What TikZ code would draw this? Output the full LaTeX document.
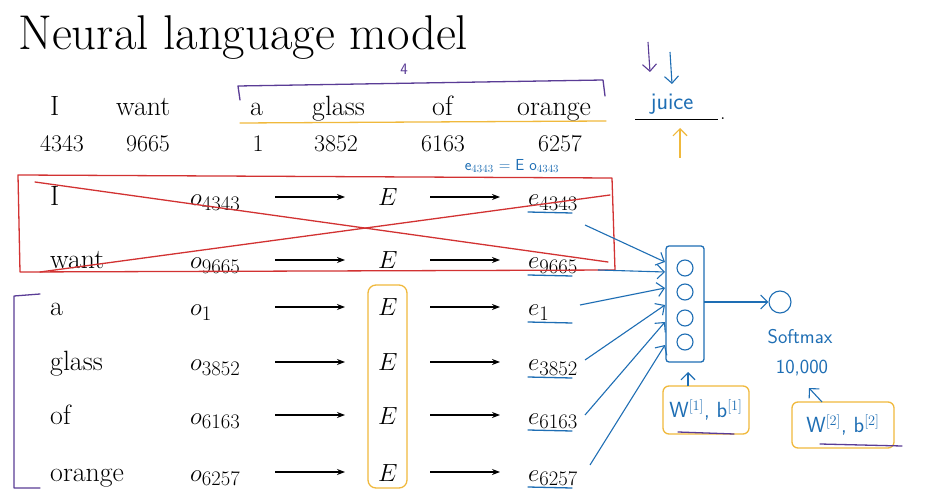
\documentclass[tikz,border=0pt]{standalone}
\usetikzlibrary{arrows.meta}
\definecolor{pblue}{RGB}{30,110,180}
\definecolor{pred}{RGB}{210,50,50}
\definecolor{porange}{RGB}{240,185,60}
\definecolor{ppurple}{RGB}{90,60,150}
\begin{document}
\begin{tikzpicture}[x=1bp,y=-1bp,
  txt/.style={anchor=base west,inner sep=0pt,font=\fontsize{28}{32}\selectfont},
  num/.style={anchor=base,inner sep=0pt,font=\fontsize{24}{28}\selectfont},
  hand/.style={inner sep=1pt,text=pblue,font=\sffamily\fontsize{20}{24}\selectfont},
  arr/.style={-{Stealth[length=8bp]},line width=1.3pt},
  barr/.style={-{Straight Barb[length=7bp]},pblue,line width=1.1pt},
  pen/.style={line width=1.3pt,line cap=round,line join=round}]
\useasboundingbox (0,0) rectangle (944,493);
\fill[white] (0,0) rectangle (944,493);
\node[anchor=base west,inner sep=0pt,font=\fontsize{49}{54}\selectfont] (title) at (18,50) {Neural language model};
% top sentence
\foreach \w/\x/\n in {I/50/w1,want/116/w2,a/250/w3,glass/312/w4,of/432/w5,orange/517/w6}
  \node[txt] (\n) at (\x,116) {\w};
\foreach \v/\x/\n in {4343/62/n1,9665/148/n2,1/258/n3,3852/336/n4,6163/443/n5,6257/560/n6}
  \node[num] (\n) at (\x,152) {\v};
\draw[ppurple,pen] (240,100) -- (238,86) -- (603,80) -- (605,96);
\node[font=\sffamily\fontsize{16}{18}\selectfont,text=ppurple,inner sep=0pt] (four) at (404,69) {4};
\draw[porange,pen] (240,123) -- (606,121);
\coordinate (blank1) at (635,120); \coordinate (blank2) at (718,120);
\draw[line width=1pt] (blank1) -- (blank2);
\node[anchor=base west,inner sep=0pt,font=\fontsize{22}{26}\selectfont] (dot) at (720,120) {.};
\node[hand,font=\sffamily\fontsize{24}{28}\selectfont] (juice) at (672,104) {juice};
\draw[barr,ppurple] (648,42) -- (650,72);
\draw[barr] (670,52) -- (672,84);
\draw[barr,porange] (680,158) -- (680,128);
\node[hand,font=\sffamily\fontsize{16}{18}\selectfont] (eq) at (512,166) {e$_{4343}$ = E o$_{4343}$};
% rows
\foreach \w/\o/\e/\y/\i in {I/4343/4343/197/1,want/9665/9665/260/2,a/1/1/307/3,glass/3852/3852/362/4,of/6163/6163/415/5,orange/6257/6257/472/6}{
  \node[txt] (r\i) at (50,\y+9) {\w};
  \node[txt] (o\i) at (190,\y+9) {$o_{\o}$};
  \node[txt] (E\i) at (378,\y+9) {$E$};
  \node[txt] (e\i) at (528,\y+9) {$e_{\e}$};
  \draw[arr] (275,\y) -- (345,\y);
  \draw[arr] (430,\y) -- (500,\y);
  \draw[pblue,pen] (528,\y+15) -- (572,\y+16);
}
% red cross
\draw[pred,pen] (18,175) -- (612,178) -- (615,270) -- (20,272) -- cycle;
\draw[pred,pen] (35,182) -- (608,262);
\draw[pred,pen] (40,272) -- (610,195);
% purple bracket and orange E box
\draw[ppurple,pen] (40,294) -- (14,296) -- (14,488) -- (40,488);
\draw[porange,pen,rounded corners=8pt] (368,285) rectangle (407,488);
% hidden layer
\draw[pblue,pen,rounded corners=3pt] (666,246) rectangle (704,362);
\foreach \yy/\k in {268/1,292/2,318/3,342/4} \node[circle,draw=pblue,line width=1.1pt,minimum width=13bp,minimum height=16bp,inner sep=0pt] (c\k) at (685,\yy) {};
\node[circle,draw=pblue,line width=1.1pt,minimum width=22bp,minimum height=20bp,inner sep=0pt] (sm) at (780,302) {};
\draw[barr] (704,302) -- (sm);
\foreach \sx/\sy/\ty in {585/225/262,598/270/272,580/305/288,585/360/305,585/415/322,590/465/345}
  \draw[barr] (\sx,\sy) -- (665,\ty);
\node[hand] (smt) at (800,337) {Softmax};
\node[hand] (tenk) at (802,368) {10,000};
\node[hand,draw=porange,line width=1.3pt,rounded corners=6pt,minimum width=86bp,minimum height=48bp,font=\sffamily\fontsize{22}{26}\selectfont] (w1) at (706,410) {W$^{[1]}$, b$^{[1]}$};
\node[hand,draw=porange,line width=1.3pt,rounded corners=6pt,minimum width=102bp,minimum height=46bp,font=\sffamily\fontsize{22}{26}\selectfont] (w2) at (843,425) {W$^{[2]}$, b$^{[2]}$};
\draw[ppurple,pen] (678,432) -- (734,434);
\draw[ppurple,pen] (820,444) -- (902,446);
\draw[barr] (688,386) -- (688,372);
\draw[barr] (822,402) -- (809,388);
\end{tikzpicture}
\end{document}
